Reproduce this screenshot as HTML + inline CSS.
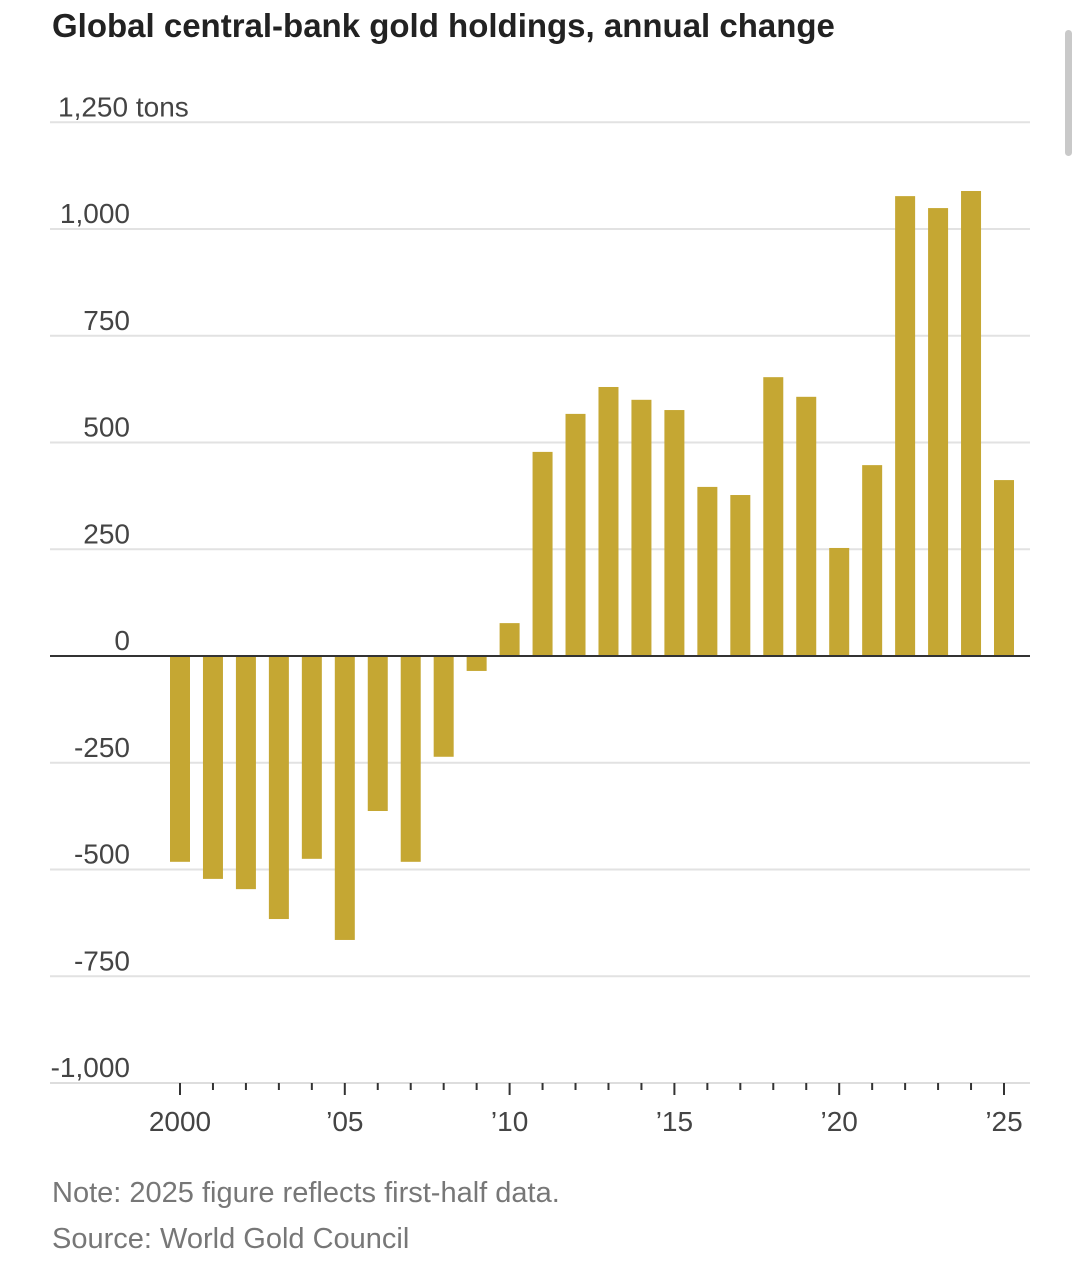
<!DOCTYPE html>
<html><head><meta charset="utf-8"><style>
body{margin:0;background:#fff;width:1080px;height:1256px;overflow:hidden;font-family:"Liberation Sans",sans-serif;}
</style></head><body>
<svg width="1080" height="1256" id="c">
<rect x="1065" y="30" width="7" height="126" rx="3.5" fill="#c9c9c9"/>
<text x="52" y="37" font-size="33" font-weight="bold" fill="#222">Global central-bank gold holdings, annual change</text>
<text x="52" y="1202" font-size="29" fill="#777">Note: 2025 figure reflects first-half data.</text>
<text x="52" y="1248" font-size="29" fill="#777">Source: World Gold Council</text>
<g id="grid"></g><g id="bars"></g><g id="xaxis"></g>
</svg>
<script>
const years=[2000,2001,2002,2003,2004,2005,2006,2007,2008,2009,2010,2011,2012,2013,2014,2015,2016,2017,2018,2019,2020,2021,2022,2023,2024,2025];
const values=[-482,-522,-546,-616,-475,-665,-363,-482,-236,-35,77,478,567,630,600,576,396,377,653,607,253,447,1077,1049,1089,412];
const yTicks=[1250,1000,750,500,250,0,-250,-500,-750,-1000];
const yTickLabels=["1,250 tons","1,000","750","500","250","0","-250","-500","-750","-1,000"];
const xLabels={2000:"2000",2005:"\u201905",2010:"\u201910",2015:"\u201915",2020:"\u201920",2025:"\u201925"};
const NS="http://www.w3.org/2000/svg";
const y=v=>656-v*0.427;
const x=yr=>180+(yr-2000)*32.96;
function mk(t,a,p){const e=document.createElementNS(NS,t);for(const k in a)e.setAttribute(k,a[k]);p.appendChild(e);return e;}
const grid=document.getElementById('grid');
yTicks.forEach((v,i)=>{
 if(v!==0&&v!==-1000){const l=mk('line',{x1:50,x2:1030,y1:y(v),y2:y(v),stroke:'#e2e2e2','stroke-width':2},grid);
 
 }
 const t=mk('text',{x:v===0?130:(v===1250?58:130),y:y(v)-6,'font-size':28,fill:'#444','text-anchor':v===1250?'start':'end'},grid);
 t.textContent=yTickLabels[i];
 
 
});
const bars=document.getElementById('bars');
years.forEach((yr,i)=>{const v=values[i];
 const r=mk('rect',{x:x(yr)-10,y:Math.min(y(v),y(0)),width:20,height:Math.abs(y(v)-y(0)),fill:'#c5a733'},bars);
 
 
});
const z=mk('line',{x1:50,x2:1030,y1:y(0),y2:y(0),stroke:'#333','stroke-width':2},bars);


const xa=document.getElementById('xaxis');
const base=mk('line',{x1:50,x2:1030,y1:1083,y2:1083,stroke:'#ddd','stroke-width':2},xa);


years.forEach(yr=>{const maj=xLabels[yr]!==undefined;
 const t=mk('line',{x1:x(yr),x2:x(yr),y1:1083,y2:maj?1095:1090,stroke:'#333','stroke-width':2},xa);
 
 
 if(maj){const l=mk('text',{x:x(yr),y:1131,'font-size':28,fill:'#444','text-anchor':'middle'},xa);
 l.textContent=xLabels[yr];
 
 }
});
</script>
</body></html>
